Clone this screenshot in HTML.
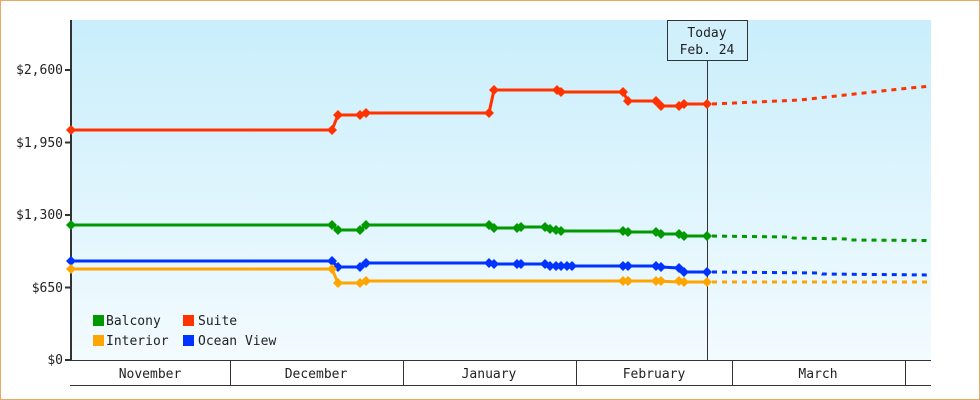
<!DOCTYPE html>
<html><head><style>
body{margin:0;background:#fff}
svg{display:block}
text{font-family:"DejaVu Sans Mono","Liberation Mono",monospace;font-size:13px;fill:#222}
</style></head><body>
<svg width="980" height="400" viewBox="0 0 980 400">
<defs><linearGradient id="g" x1="0" y1="0" x2="0" y2="1"><stop offset="0" stop-color="#c9eefc"/><stop offset="1" stop-color="#f3fbfe"/></linearGradient></defs>
<rect x="0.5" y="0.5" width="979" height="399" fill="#fff" stroke="#e6a966"/>
<rect x="71" y="20" width="860" height="340" fill="url(#g)"/>
<g stroke="#333" stroke-width="1">
<line x1="70" y1="360.5" x2="931" y2="360.5"/>
<line x1="70" y1="385.5" x2="931" y2="385.5"/>
<line x1="230.5" y1="360" x2="230.5" y2="385"/>
<line x1="403.5" y1="360" x2="403.5" y2="385"/>
<line x1="576.5" y1="360" x2="576.5" y2="385"/>
<line x1="732.5" y1="360" x2="732.5" y2="385"/>
<line x1="905.5" y1="360" x2="905.5" y2="385"/>
<line x1="707.5" y1="60" x2="707.5" y2="360"/>
</g>
<line x1="71" y1="20" x2="71" y2="361" stroke="#333" stroke-width="2"/>
<g stroke="#333" stroke-width="2">
<line x1="65" y1="70" x2="71" y2="70"/><line x1="65" y1="142.5" x2="71" y2="142.5"/><line x1="65" y1="215" x2="71" y2="215"/><line x1="65" y1="287.5" x2="71" y2="287.5"/><line x1="65" y1="360" x2="71" y2="360"/>
</g>
<g text-anchor="end">
<text x="63" y="74">$2,600</text><text x="63" y="147">$1,950</text><text x="63" y="219">$1,300</text><text x="63" y="292">$650</text><text x="63" y="364">$0</text>
</g>
<g text-anchor="middle">
<text x="150" y="378">November</text><text x="316" y="378">December</text><text x="489" y="378">January</text><text x="654" y="378">February</text><text x="818" y="378">March</text>
</g>
<rect x="667.5" y="20.5" width="80" height="40" fill="#d2f0fc" stroke="#333"/>
<text x="707" y="37" text-anchor="middle">Today</text><text x="707" y="54" text-anchor="middle">Feb. 24</text>
<g fill="none" stroke-width="3" stroke-linejoin="round">
<polyline stroke="#ff3300" points="71,130 332,130 338,115 360,115 366,113 489,113 494,90 557,90 561,92 623,92 628,101 656,101 661,106 679,106 684,104 707,104"/>
<polyline stroke="#009900" points="71,225 332,225 338,230 360,230 366,225 489,225 494,228 517,228 521,227 545,227 550,229 561,231 623,231 628,232 656,232 661,234 679,234 684,236 707,236"/>
<polyline stroke="#0033ff" points="71,261 332,261 338,267 360,267 366,263 489,263 494,264 545,264 550,266 572,266 656,266 661,267 679,268 684,272 707,272"/>
<polyline stroke="#ffa500" points="71,269 332,269 338,283 360,283 366,281 656,281 679,282 707,282"/>
<g stroke-dasharray="5,5">
<polyline stroke="#ff3300" points="712,104 800,100 900,89 931,86"/>
<polyline stroke="#009900" points="712,236 791,237 793,238 847,239 849,240 931,240.5"/>
<polyline stroke="#0033ff" points="712,272 820,273 822,274 931,275"/>
<polyline stroke="#ffa500" points="712,282 931,282"/>
</g>
</g>
<g stroke-width="0">
<g fill="#ff3300"><path d="M71,125l5,5-5,5-5-5z"/><path d="M332,125l5,5-5,5-5-5z"/><path d="M338,110l5,5-5,5-5-5z"/><path d="M360,110l5,5-5,5-5-5z"/><path d="M366,108l5,5-5,5-5-5z"/><path d="M489,108l5,5-5,5-5-5z"/><path d="M494,85l5,5-5,5-5-5z"/><path d="M557,85l5,5-5,5-5-5z"/><path d="M561,87l5,5-5,5-5-5z"/><path d="M623,87l5,5-5,5-5-5z"/><path d="M628,96l5,5-5,5-5-5z"/><path d="M656,96l5,5-5,5-5-5z"/><path d="M661,101l5,5-5,5-5-5z"/><path d="M679,101l5,5-5,5-5-5z"/><path d="M684,99l5,5-5,5-5-5z"/><path d="M707,99l5,5-5,5-5-5z"/></g>
<g fill="#009900"><path d="M71,220l5,5-5,5-5-5z"/><path d="M332,220l5,5-5,5-5-5z"/><path d="M338,225l5,5-5,5-5-5z"/><path d="M360,225l5,5-5,5-5-5z"/><path d="M366,220l5,5-5,5-5-5z"/><path d="M489,220l5,5-5,5-5-5z"/><path d="M494,223l5,5-5,5-5-5z"/><path d="M517,223l5,5-5,5-5-5z"/><path d="M521,222l5,5-5,5-5-5z"/><path d="M545,222l5,5-5,5-5-5z"/><path d="M550,224l5,5-5,5-5-5z"/><path d="M556,225l5,5-5,5-5-5z"/><path d="M561,226l5,5-5,5-5-5z"/><path d="M623,226l5,5-5,5-5-5z"/><path d="M628,227l5,5-5,5-5-5z"/><path d="M656,227l5,5-5,5-5-5z"/><path d="M661,229l5,5-5,5-5-5z"/><path d="M679,229l5,5-5,5-5-5z"/><path d="M684,231l5,5-5,5-5-5z"/><path d="M707,231l5,5-5,5-5-5z"/></g>
<g fill="#0033ff"><path d="M71,256l5,5-5,5-5-5z"/><path d="M332,256l5,5-5,5-5-5z"/><path d="M338,262l5,5-5,5-5-5z"/><path d="M360,262l5,5-5,5-5-5z"/><path d="M366,258l5,5-5,5-5-5z"/><path d="M489,258l5,5-5,5-5-5z"/><path d="M494,259l5,5-5,5-5-5z"/><path d="M517,259l5,5-5,5-5-5z"/><path d="M521,259l5,5-5,5-5-5z"/><path d="M545,259l5,5-5,5-5-5z"/><path d="M550,261l5,5-5,5-5-5z"/><path d="M556,261l5,5-5,5-5-5z"/><path d="M561,261l5,5-5,5-5-5z"/><path d="M567,261l5,5-5,5-5-5z"/><path d="M572,261l5,5-5,5-5-5z"/><path d="M623,261l5,5-5,5-5-5z"/><path d="M628,261l5,5-5,5-5-5z"/><path d="M656,261l5,5-5,5-5-5z"/><path d="M661,262l5,5-5,5-5-5z"/><path d="M679,263l5,5-5,5-5-5z"/><path d="M684,267l5,5-5,5-5-5z"/><path d="M707,267l5,5-5,5-5-5z"/></g>
<g fill="#ffa500"><path d="M71,264l5,5-5,5-5-5z"/><path d="M332,264l5,5-5,5-5-5z"/><path d="M338,278l5,5-5,5-5-5z"/><path d="M360,278l5,5-5,5-5-5z"/><path d="M366,276l5,5-5,5-5-5z"/><path d="M623,276l5,5-5,5-5-5z"/><path d="M628,276l5,5-5,5-5-5z"/><path d="M656,276l5,5-5,5-5-5z"/><path d="M661,276l5,5-5,5-5-5z"/><path d="M679,276l5,5-5,5-5-5z"/><path d="M684,277l5,5-5,5-5-5z"/><path d="M707,277l5,5-5,5-5-5z"/></g>
</g>
<rect x="93" y="315" width="11" height="11" fill="#009900"/><text x="106" y="325">Balcony</text>
<rect x="183" y="315" width="11" height="11" fill="#ff3300"/><text x="198" y="325">Suite</text>
<rect x="93" y="335" width="11" height="11" fill="#ffa500"/><text x="106" y="345">Interior</text>
<rect x="183" y="335" width="11" height="11" fill="#0033ff"/><text x="198" y="345">Ocean View</text>
</svg>
</body></html>
